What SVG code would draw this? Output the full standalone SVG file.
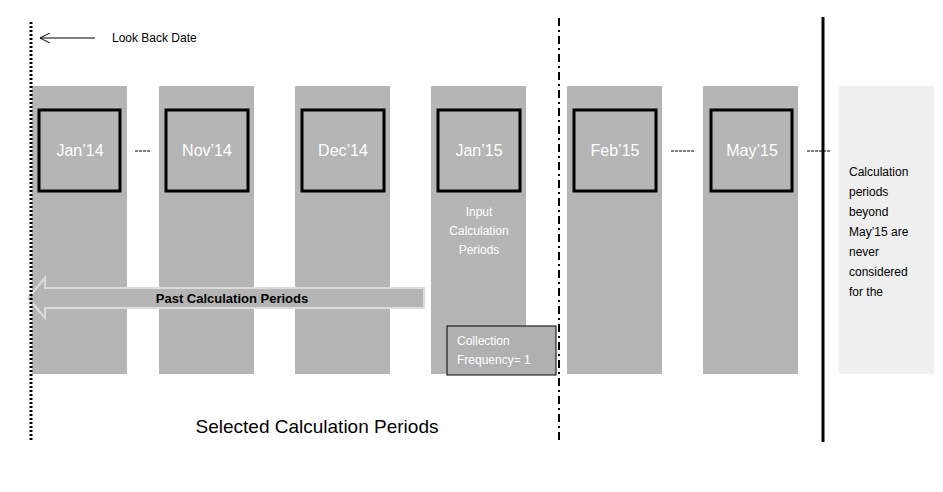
<svg xmlns="http://www.w3.org/2000/svg" width="943" height="492" viewBox="0 0 943 492">
<defs>
<style>
.col{fill:#b5b5b5}
.box{fill:none;stroke:#000;stroke-width:3}
.lbl{font-family:"Liberation Sans",Arial,sans-serif;font-size:16px;fill:#fff;text-anchor:middle}
.sm{font-family:"Liberation Sans",Arial,sans-serif;font-size:12px;fill:#fff;text-anchor:middle}
.bt{font-family:"Liberation Sans",Arial,sans-serif;font-size:12px;fill:#000}
.dash{stroke:#000;stroke-width:1}
</style>
<marker id="ah" markerWidth="12" markerHeight="10" refX="11" refY="5" orient="auto" markerUnits="userSpaceOnUse"><path d="M1,0 L11,5 L1,10" fill="none" stroke="#000"/></marker>
</defs>
<rect width="943" height="492" fill="#fff"/>
<g id="jan14"><rect class="col" x="32" y="86" width="95" height="288"/><rect class="box" x="39" y="110" width="81" height="81"/><text class="lbl" x="80" y="156">Jan’14</text></g>
<g id="nov14"><rect class="col" x="159" y="86" width="95" height="288"/><rect class="box" x="166" y="110" width="82" height="81"/><text class="lbl" x="207" y="156">Nov’14</text></g>
<g id="dec14"><rect class="col" x="295" y="86" width="95" height="288"/><rect class="box" x="302" y="110" width="82" height="81"/><text class="lbl" x="343" y="156">Dec’14</text></g>
<g id="jan15"><rect class="col" x="431" y="86" width="95" height="288"/><rect class="box" x="438" y="110" width="82" height="81"/><text class="lbl" x="479" y="156">Jan’15</text>
<text class="sm" x="479" y="216">Input</text><text class="sm" x="479" y="235">Calculation</text><text class="sm" x="479" y="254">Periods</text></g>
<g id="feb15"><rect class="col" x="567" y="86" width="95" height="288"/><rect class="box" x="574" y="110" width="82" height="81"/><text class="lbl" x="615" y="156">Feb’15</text></g>
<g id="may15"><rect class="col" x="703" y="86" width="95" height="288"/><rect class="box" x="711" y="110" width="81" height="81"/><text class="lbl" x="752" y="156">May’15</text></g>
<g id="beyond"><rect x="839" y="86" width="95" height="288" fill="#efefef"/>
<text class="bt" x="849" y="176">Calculation</text><text class="bt" x="849" y="196">periods</text><text class="bt" x="849" y="216">beyond</text><text class="bt" x="849" y="236">May’15 are</text><text class="bt" x="849" y="256">never</text><text class="bt" x="849" y="276">considered</text><text class="bt" x="849" y="296">for the</text><text class="bt" x="849" y="316" visibility="hidden"></text></g>
<g id="beyond2"><text class="bt" x="849" y="297" visibility="hidden"></text></g>
<g id="past"><path d="M28,298 L45,278 L45,288 L424,288 L424,308 L45,308 L45,318 Z" fill="#b5b5b5" stroke="#dcdcdc" stroke-width="2"/><text x="232" y="303" font-family="Liberation Sans,Arial,sans-serif" font-size="13" font-weight="bold" fill="#000" text-anchor="middle">Past Calculation Periods</text></g>
<g id="collection"><rect x="447" y="326" width="109" height="49" fill="#b0b0b0" stroke="#000" stroke-width="1"/><text x="457" y="345" font-family="Liberation Sans,Arial,sans-serif" font-size="12" fill="#fff">Collection</text><text x="457" y="364" font-family="Liberation Sans,Arial,sans-serif" font-size="12" fill="#fff">Frequency= 1</text></g>
<g id="lookback"><text x="112" y="42" font-family="Liberation Sans,Arial,sans-serif" font-size="12" fill="#000">Look Back Date</text></g>
<text x="317" y="433" font-family="Liberation Sans,Arial,sans-serif" font-size="19" fill="#000" text-anchor="middle">Selected Calculation Periods</text>
<g id="connectors">
<line x1="95" y1="38" x2="40" y2="38" stroke="#000" marker-end="url(#ah)"/>
<line x1="31" y1="22" x2="31" y2="440" stroke="#000" stroke-width="3" stroke-dasharray="2,2"/>
<line x1="559" y1="18" x2="559" y2="442" stroke="#000" stroke-width="2" stroke-dasharray="8,4,2,4"/>
<line x1="823" y1="17" x2="823" y2="442" stroke="#000" stroke-width="3"/>
<line class="dash" x1="135" y1="151" x2="151" y2="151" stroke-dasharray="3,1"/>
<line class="dash" x1="671" y1="151" x2="694" y2="151" stroke-dasharray="3,1"/>
<line class="dash" x1="807" y1="151" x2="830" y2="151" stroke-dasharray="3,1"/>
</g>
</svg>
